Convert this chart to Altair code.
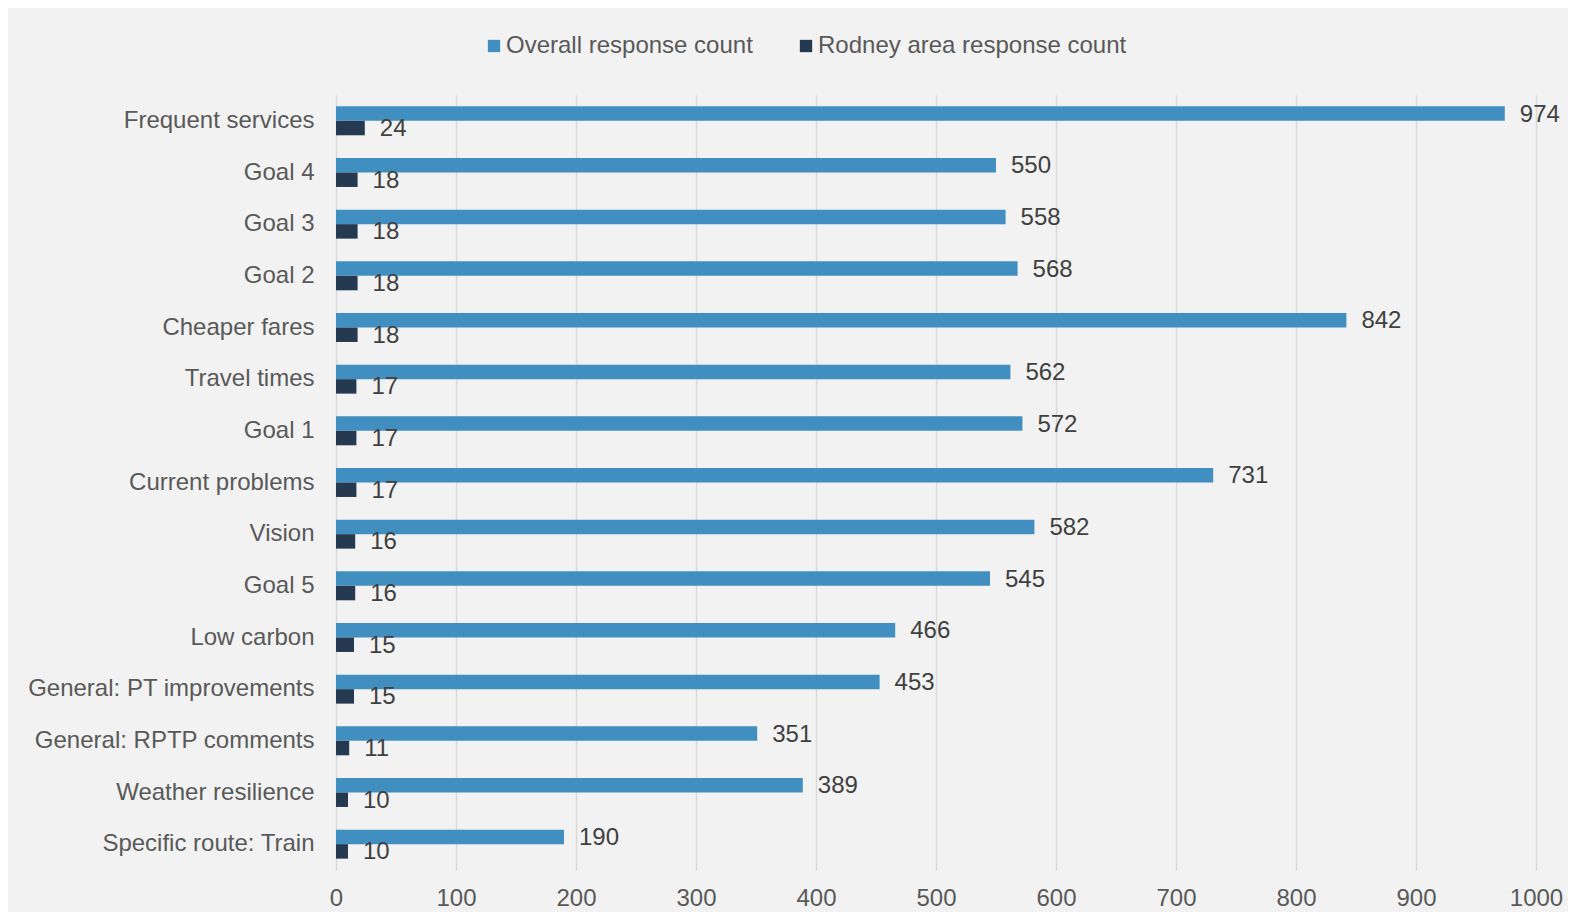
import altair as alt
import pandas as pd

categories = [
    "Frequent services", "Goal 4", "Goal 3", "Goal 2", "Cheaper fares",
    "Travel times", "Goal 1", "Current problems", "Vision", "Goal 5",
    "Low carbon", "General: PT improvements", "General: RPTP comments",
    "Weather resilience", "Specific route: Train",
]
overall = [974, 550, 558, 568, 842, 562, 572, 731, 582, 545, 466, 453, 351, 389, 190]
rodney = [24, 18, 18, 18, 18, 17, 17, 17, 16, 16, 15, 15, 11, 10, 10]
series = ["Overall response count", "Rodney area response count"]
colors = ["#418fc0", "#253a51"]
x_ticks = [0, 100, 200, 300, 400, 500, 600, 700, 800, 900, 1000]

rows = []
for c, o, r in zip(categories, overall, rodney):
    rows.append({"category": c, "series": series[0], "value": o})
    rows.append({"category": c, "series": series[1], "value": r})
df = pd.DataFrame(rows)

FONT = "Liberation Sans"

base = alt.Chart(df).encode(
    y=alt.Y(
        "category:N",
        sort=categories,
        scale=alt.Scale(paddingInner=0.44, paddingOuter=0.22),
        axis=alt.Axis(
            title=None, ticks=False, domain=False, grid=False,
            labelFontSize=24, labelColor="#595959", labelPadding=22,
            labelLimit=500, labelFont=FONT,
        ),
    ),
    yOffset=alt.YOffset("series:N", sort=series),
)

xenc = alt.X(
    "value:Q",
    scale=alt.Scale(domain=[0, 1000], nice=False),
    axis=alt.Axis(
        title=None, values=x_ticks, format="d", labelFlush=False,
        ticks=False, domain=False, grid=True,
        gridColor="#d9d9d9", gridWidth=1.5, labelFontSize=24,
        labelColor="#595959", labelPadding=16, labelFont=FONT,
    ),
)

bars = base.mark_bar().encode(
    x=xenc,
    color=alt.Color(
        "series:N",
        sort=series,
        scale=alt.Scale(domain=series, range=colors),
        legend=alt.Legend(
            title=None, orient="none", legendX=146, legendY=-61,
            direction="horizontal", symbolType="square", symbolSize=152,
            symbolStrokeWidth=0, labelFontSize=24, labelColor="#595959",
            labelFont=FONT, labelOffset=0, columnPadding=41, padding=0,
            labelLimit=500,
        ),
    ),
)

text = base.mark_text(
    align="left", baseline="middle", dx=15, dy=1, fontSize=24,
    color="#404040", font=FONT,
).encode(
    x=alt.X("value:Q"),
    text=alt.Text("value:Q"),
)

chart = alt.layer(bars, text).properties(
    width=1200,
    height=775,
    padding={"left": 328, "top": 87, "right": 32, "bottom": 42},
    autosize=alt.AutoSizeParams(type="none"),
    background="#f2f2f2",
).configure_view(stroke=None)

chart.save("out.html", embed_options={"renderer": "svg", "actions": False})
